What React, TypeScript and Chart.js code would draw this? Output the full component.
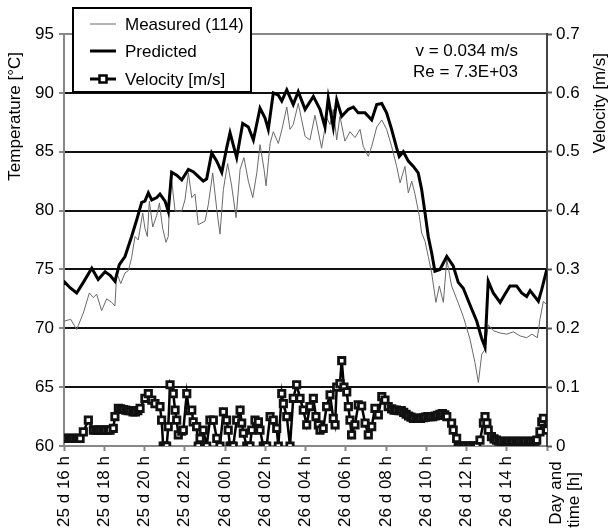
import React, { useEffect, useRef } from 'react';
import { Chart, registerables } from 'chart.js';

Chart.register(...registerables);

const FONT = '"Liberation Sans", Arial, Helvetica, sans-serif';

// x-axis: hours since 25 d 16 h
const xTickLabels = [
  '25 d 16 h', '25 d 18 h', '25 d 20 h', '25 d 22 h', '26 d 00 h', '26 d 02 h',
  '26 d 04 h', '26 d 06 h', '26 d 08 h', '26 d 10 h', '26 d 12 h', '26 d 14 h', '',
];

const legendLabels = ['Measured (114)', 'Predicted', 'Velocity [m/s]'];
const noteLines = ['v = 0.034 m/s', 'Re = 7.3E+03'];
const leftTitle = 'Temperature [°C]';
const rightTitle = 'Velocity [m/s]';
const xTitleLines = ['Day and', 'time [h]'];

const measuredTime = [
  0.00, 0.33, 0.63, 0.96, 1.26, 1.46, 1.62, 1.87, 2.12, 2.37,
  2.53, 2.62, 2.82, 3.03, 3.20, 3.36, 3.53, 3.69, 3.91, 4.02,
  4.14, 4.24, 4.41, 4.61, 4.74, 4.90, 5.07, 5.18, 5.30, 5.52,
  5.85, 6.01, 6.18, 6.35, 6.51, 6.67, 7.01, 7.17, 7.39, 7.59,
  7.75, 7.92, 8.13, 8.33, 8.55, 8.75, 8.94, 9.16, 9.38, 9.58,
  9.74, 9.94, 10.04, 10.24, 10.40, 10.65, 10.83, 11.07, 11.23, 11.39,
  11.64, 11.81, 11.98, 12.22, 12.47, 12.80, 13.05, 13.22, 13.38, 13.55,
  13.71, 13.96, 14.21, 14.46, 14.71, 14.87, 15.12, 15.29, 15.54, 15.79,
  16.03, 16.28, 16.53, 16.70, 16.94, 17.11, 17.28, 17.44, 17.66, 17.77,
  17.94, 18.10, 18.27, 18.48, 18.65, 18.85, 19.02, 19.26, 19.51, 19.84,
  20.17, 20.42, 20.59, 20.76, 20.92, 21.08, 21.33, 21.67, 22.00, 22.33,
  22.66, 22.99, 23.25, 23.52, 23.65, 23.82, 23.99,
];
const measuredTemp = [
  70.6, 70.76, 69.9, 71.3, 73.0, 72.6, 72.9, 71.5, 72.5, 72.2,
  71.9, 74.7, 73.8, 74.7, 74.9, 76.0, 77.8, 77.5, 79.8, 78.5,
  77.8, 80.8, 78.6, 79.6, 80.65, 78.5, 77.3, 77.8, 83.3, 79.95,
  79.95, 80.9, 83.2, 81.1, 81.4, 78.8, 79.1, 80.5, 83.2, 80.1,
  78.0, 81.8, 84.0, 82.1, 79.4, 83.5, 84.5, 82.5, 81.1, 83.2,
  85.6, 83.5, 82.1, 85.7, 86.7, 85.7, 86.9, 88.8, 86.9, 87.3,
  89.1, 87.7, 86.3, 86.0, 88.1, 85.3, 87.9, 87.3, 88.6, 86.0,
  88.0, 85.9, 86.7, 86.2, 86.9, 85.45, 84.6, 85.45, 87.1, 87.7,
  86.9, 85.45, 83.75, 82.35, 83.75, 81.5, 82.5, 81.4, 79.5, 78.1,
  77.4, 76.1, 74.7, 72.2, 73.6, 72.2, 75.85, 73.6, 72.5, 71.0,
  69.1, 67.1, 65.4, 67.8, 68.2, 70.3, 69.8, 69.6, 69.5, 69.7,
  69.35, 69.2, 69.5, 69.2, 70.76, 72.3, 72.0,
];

const predictedTime = [
  0.00, 0.05, 0.30, 0.63, 0.96, 1.38, 1.70, 2.04, 2.29, 2.53,
  2.75, 3.03, 3.36, 3.61, 3.86, 4.02, 4.19, 4.36, 4.61, 4.77,
  5.02, 5.18, 5.35, 5.60, 5.85, 6.18, 6.42, 6.67, 6.92, 7.09,
  7.34, 7.59, 7.84, 8.08, 8.25, 8.58, 8.88, 9.16, 9.41, 9.74,
  9.99, 10.15, 10.40, 10.65, 10.82, 11.07, 11.39, 11.64, 11.98, 12.39,
  12.72, 12.97, 13.13, 13.38, 13.55, 13.80, 14.13, 14.38, 14.62, 14.96,
  15.29, 15.54, 15.79, 16.03, 16.28, 16.53, 16.66, 16.86, 17.11, 17.36,
  17.60, 17.77, 17.94, 18.10, 18.27, 18.43, 18.68, 19.02, 19.34, 19.59,
  19.84, 20.17, 20.51, 20.76, 20.92, 21.08, 21.33, 21.67, 21.91, 22.16,
  22.49, 22.74, 22.99, 23.16, 23.57, 23.74, 23.99,
];
const predictedTemp = [
  73.7, 73.9, 73.45, 73.0, 73.9, 75.1, 74.15, 74.8, 74.5, 74.0,
  75.4, 76.1, 77.8, 79.2, 80.7, 80.8, 81.5, 80.9, 81.1, 81.4,
  80.8, 79.95, 83.25, 83.0, 82.6, 83.5, 83.3, 82.9, 82.5, 82.7,
  84.9, 84.2, 83.25, 85.3, 86.6, 84.5, 87.4, 87.1, 86.0, 88.7,
  87.85, 86.9, 90.0, 89.8, 89.3, 90.25, 89.0, 90.1, 88.6, 89.7,
  88.6, 87.1, 89.55, 87.1, 89.4, 88.0, 88.6, 88.8, 88.3, 88.3,
  87.7, 89.0, 89.1, 88.3, 86.9, 85.3, 84.6, 85.0, 84.2, 83.75,
  83.2, 81.8, 79.8, 77.8, 76.4, 74.85, 75.0, 76.1, 75.3, 73.9,
  73.4, 72.0, 70.6, 69.1, 68.4, 74.0, 73.0, 72.2, 72.9, 73.6,
  73.6, 73.0, 72.7, 73.2, 72.3, 73.3, 75.0,
];

const velocityTime = [
  0.00, 0.12, 0.24, 0.36, 0.48, 0.60, 0.72, 0.80, 0.96, 1.21,
  1.46, 1.58, 1.70, 1.82, 1.94, 2.06, 2.18, 2.29, 2.45, 2.53,
  2.70, 2.82, 2.95, 3.07, 3.19, 3.31, 3.43, 3.55, 3.67, 3.78,
  4.02, 4.19, 4.36, 4.52, 4.77, 4.85, 4.93, 5.02, 5.10, 5.18,
  5.27, 5.43, 5.52, 5.60, 5.68, 5.85, 5.93, 6.10, 6.21, 6.35,
  6.42, 6.59, 6.67, 6.76, 6.92, 7.09, 7.25, 7.42, 7.59, 7.75,
  7.92, 8.08, 8.16, 8.25, 8.33, 8.41, 8.58, 8.75, 8.83, 8.91,
  9.08, 9.16, 9.24, 9.33, 9.49, 9.66, 9.74, 9.90, 9.98, 10.07,
  10.24, 10.40, 10.57, 10.65, 10.82, 10.90, 11.07, 11.23, 11.39, 11.56,
  11.73, 11.89, 12.06, 12.22, 12.39, 12.52, 12.64, 12.72, 12.88, 13.05,
  13.22, 13.38, 13.47, 13.55, 13.71, 13.80, 13.91, 14.05, 14.13, 14.21,
  14.29, 14.46, 14.62, 14.79, 14.96, 15.12, 15.29, 15.45, 15.62, 15.79,
  15.95, 16.11, 16.28, 16.40, 16.52, 16.64, 16.76, 16.88, 17.00, 17.12,
  17.24, 17.36, 17.48, 17.60, 17.72, 17.84, 17.96, 18.08, 18.20, 18.32,
  18.44, 18.56, 18.68, 18.80, 18.92, 19.02, 19.26, 19.34, 19.51, 19.59,
  19.71, 19.83, 19.95, 20.07, 20.19, 20.31, 20.43, 20.51, 20.67, 20.84,
  20.92, 21.01, 21.08, 21.24, 21.37, 21.49, 21.61, 21.73, 21.85, 21.97,
  22.09, 22.21, 22.33, 22.45, 22.57, 22.69, 22.81, 22.93, 23.05, 23.17,
  23.29, 23.41, 23.49, 23.65, 23.74, 23.82, 23.99,
];
const velocityValue = [
  0.013, 0.013, 0.013, 0.013, 0.013, 0.013, 0.013, 0.013, 0.024, 0.044,
  0.027, 0.027, 0.027, 0.027, 0.027, 0.027, 0.027, 0.027, 0.030, 0.050,
  0.064, 0.063, 0.062, 0.061, 0.060, 0.060, 0.058, 0.058, 0.060, 0.064,
  0.081, 0.089, 0.078, 0.072, 0.067, 0.044, 0.000, 0.000, 0.000, 0.033,
  0.104, 0.089, 0.061, 0.044, 0.019, 0.025, 0.027, 0.089, 0.060, 0.061,
  0.041, 0.033, 0.000, 0.013, 0.027, 0.000, 0.044, 0.044, 0.013, 0.000,
  0.058, 0.044, 0.027, 0.000, 0.000, 0.000, 0.044, 0.061, 0.039, 0.022,
  0.000, 0.000, 0.000, 0.027, 0.044, 0.041, 0.027, 0.000, 0.000, 0.000,
  0.050, 0.044, 0.030, 0.000, 0.089, 0.072, 0.050, 0.000, 0.081, 0.104,
  0.081, 0.061, 0.036, 0.067, 0.081, 0.050, 0.036, 0.027, 0.030, 0.067,
  0.087, 0.047, 0.036, 0.100, 0.106, 0.145, 0.100, 0.092, 0.067, 0.044,
  0.019, 0.036, 0.070, 0.068, 0.039, 0.019, 0.033, 0.064, 0.053, 0.084,
  0.078, 0.067, 0.063, 0.061, 0.061, 0.060, 0.060, 0.057, 0.054, 0.051,
  0.049, 0.047, 0.047, 0.047, 0.047, 0.048, 0.049, 0.050, 0.050, 0.050,
  0.051, 0.052, 0.054, 0.055, 0.053, 0.050, 0.039, 0.027, 0.013, 0.000,
  0.000, 0.000, 0.000, 0.000, 0.000, 0.000, 0.000, 0.000, 0.010, 0.039,
  0.050, 0.039, 0.027, 0.016, 0.012, 0.010, 0.008, 0.008, 0.008, 0.008,
  0.008, 0.008, 0.008, 0.008, 0.008, 0.008, 0.008, 0.008, 0.008, 0.008,
  0.008, 0.008, 0.010, 0.024, 0.041, 0.047, 0.027,
];

const zip = (xs: number[], ys: number[]) => xs.map((x, i) => ({ x, y: ys[i] }));

const overlayPlugin = {
  id: 'overlay',
  beforeDraw(chart: any) {
    const ctx = chart.ctx;
    ctx.save();
    ctx.fillStyle = '#ffffff';
    ctx.fillRect(0, 0, chart.width, chart.height);
    ctx.restore();
  },
  afterDraw(chart: any) {
    const ctx = chart.ctx as CanvasRenderingContext2D;
    ctx.save();
    ctx.font = `17px ${FONT}`;
    ctx.fillStyle = '#000';

    // note
    ctx.textAlign = 'right';
    ctx.textBaseline = 'middle';
    ctx.fillText(noteLines[0], 518, 51);
    ctx.fillText(noteLines[1], 518, 72);

    // axis titles (rotated, reading bottom to top)
    const rot = (text: string, x: number, y: number, align: CanvasTextAlign) => {
      ctx.save();
      ctx.translate(x, y);
      ctx.rotate(-Math.PI / 2);
      ctx.textAlign = align;
      ctx.textBaseline = 'middle';
      ctx.fillText(text, 0, 0);
      ctx.restore();
    };
    rot(leftTitle, 15, 52, 'right');
    rot(rightTitle, 600, 53, 'right');
    rot(xTitleLines[0], 556, 493, 'center');
    rot(xTitleLines[1], 574, 500, 'center');

    // legend box
    ctx.fillStyle = '#fff';
    ctx.fillRect(73, 8, 178, 84);
    ctx.strokeStyle = '#000';
    ctx.lineWidth = 2;
    ctx.strokeRect(73, 8, 178, 84);

    const rows = [24, 51, 79];
    // measured
    ctx.beginPath();
    ctx.strokeStyle = '#6a6a6a';
    ctx.lineWidth = 1;
    ctx.moveTo(90, rows[0]);
    ctx.lineTo(116, rows[0]);
    ctx.stroke();
    // predicted
    ctx.beginPath();
    ctx.strokeStyle = '#000';
    ctx.lineWidth = 3;
    ctx.moveTo(90, rows[1]);
    ctx.lineTo(116, rows[1]);
    ctx.stroke();
    // velocity
    ctx.beginPath();
    ctx.lineWidth = 3;
    ctx.moveTo(90, rows[2]);
    ctx.lineTo(116, rows[2]);
    ctx.stroke();
    ctx.fillStyle = '#fff';
    ctx.lineWidth = 2.5;
    ctx.fillRect(99.5, rows[2] - 3.5, 7, 7);
    ctx.strokeRect(99.5, rows[2] - 3.5, 7, 7);

    ctx.fillStyle = '#000';
    ctx.textAlign = 'left';
    ctx.textBaseline = 'middle';
    legendLabels.forEach((t, i) => ctx.fillText(t, 125, rows[i] + 1));
    ctx.restore();
  },
};

export default function App() {
  const canvasRef = useRef<HTMLCanvasElement | null>(null);

  useEffect(() => {
    if (!canvasRef.current) return;
    const tickFont = { family: FONT, size: 17 };
    const chart = new Chart(canvasRef.current, {
      type: 'line',
      data: {
        datasets: [
          {
            label: legendLabels[1],
            data: zip(predictedTime, predictedTemp),
            borderColor: '#000',
            borderWidth: 3,
            pointRadius: 0,
            tension: 0,
            yAxisID: 'y',
            order: 1,
          },
          {
            label: legendLabels[0],
            data: zip(measuredTime, measuredTemp),
            borderColor: '#6a6a6a',
            borderWidth: 1,
            pointRadius: 0,
            tension: 0,
            yAxisID: 'y',
            order: 2,
          },
          {
            label: legendLabels[2],
            data: zip(velocityTime, velocityValue),
            borderColor: '#000',
            borderWidth: 2.5,
            pointStyle: 'rect',
            pointRadius: 4.5,
            pointBorderWidth: 2.8,
            pointBackgroundColor: '#fff',
            pointBorderColor: '#111',
            tension: 0,
            yAxisID: 'y1',
            order: 0,
          },
        ],
      },
      options: {
        animation: false,
        responsive: false,
        devicePixelRatio: 1,
        layout: { padding: { top: 34, left: 0, right: 0, bottom: 0 } },
        plugins: {
          legend: { display: false },
          tooltip: { enabled: false },
        },
        scales: {
          x: {
            type: 'linear',
            min: 0,
            max: 24,
            afterFit: (s: any) => { s.height = 86; },
            grid: {
              drawOnChartArea: false,
              drawTicks: true,
              tickLength: 5,
              tickColor: '#888',
              tickWidth: 2,
            },
            border: { display: true, color: '#888', width: 2 },
            ticks: {
              stepSize: 2,
              autoSkip: false,
              minRotation: 90,
              maxRotation: 90,
              padding: 5,
              color: '#000',
              font: tickFont,
              callback: (_v: any, i: number) => xTickLabels[i] ?? '',
            },
          },
          y: {
            type: 'linear',
            position: 'left',
            min: 60,
            max: 95,
            afterFit: (s: any) => { s.width = 64; },
            grid: {
              color: (c: any) => (c.tick && (c.tick.value === 95 || c.tick.value === 60) ? '#888' : '#111'),
              lineWidth: 2,
              tickLength: 5,
              tickColor: '#888',
              tickWidth: 2,
            },
            border: { display: true, color: '#888', width: 2 },
            ticks: { stepSize: 5, padding: 5, color: '#000', font: tickFont },
          },
          y1: {
            type: 'linear',
            position: 'right',
            min: 0,
            max: 0.7,
            afterFit: (s: any) => { s.width = 63; },
            grid: {
              drawOnChartArea: false,
              tickLength: 5,
              tickColor: '#555',
              tickWidth: 2,
            },
            border: { display: true, color: '#444', width: 2 },
            ticks: { stepSize: 0.1, padding: 4, color: '#000', font: tickFont },
          },
        },
      },
      plugins: [overlayPlugin],
    } as any);
    return () => chart.destroy();
  }, []);

  return (
    <div style={{ position: 'fixed', left: 0, top: 0, width: 610, height: 532, background: '#fff' }}>
      <canvas ref={canvasRef} width={610} height={532} style={{ display: 'block' }} />
    </div>
  );
}
